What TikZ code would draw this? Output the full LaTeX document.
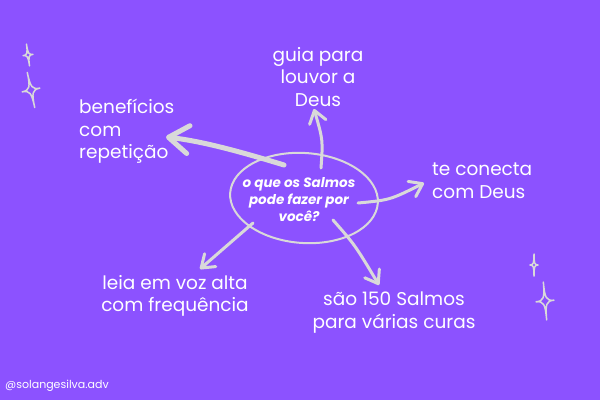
\documentclass[tikz,border=0pt]{standalone}
\usepackage{fontspec}
\setmainfont{Poppins}
\usepackage{tikz}
\usetikzlibrary{arrows.meta,positioning,calc}
\definecolor{Fundo}{HTML}{8C52FF}
\definecolor{Traco}{HTML}{D9D9D9}

% estrela de quatro pontas: x, y, meia largura, meia altura, giro
\newcommand{\faisca}[5]{%
  \draw[brilho,shift={(#1,#2)},rotate=#5] (0,-#4) .. controls (0,-0.15*#4) and (0.15*#3,0) .. (#3,0)
    .. controls (0.15*#3,0) and (0,0.15*#4) .. (0,#4)
    .. controls (0,0.15*#4) and (-0.15*#3,0) .. (-#3,0)
    .. controls (-0.15*#3,0) and (0,-0.15*#4) .. cycle;}

\begin{document}
\begin{tikzpicture}[x=1pt,y=-1pt,
    rotulo/.style={text=white,font=\fontsize{18.5}{22.5}\selectfont,align=center,inner sep=0pt},
    seta/.style={-{Straight Barb[length=12pt,width=17pt,line cap=round,line join=round]},line width=3pt,draw=Traco,line cap=round},
    brilho/.style={draw=Traco,line width=1.5pt,line join=round}
]
\fill[Fundo] (0,0) rectangle (600,400);
\useasboundingbox (0,0) rectangle (600,400);

% centro
\node[text=white,font=\fontsize{13.5}{17}\selectfont\bfseries\itshape,align=center,inner sep=0pt] (centro) at (299,200) {o que os Salmos\\pode fazer por\\você?};
\draw[draw=Traco,line width=2pt] (304,198) ellipse [x radius=74,y radius=45,rotate=-4];

% rotulos
\node[rotulo,align=left,anchor=north west] (beneficios) at (79,99) {benefícios\\com\\repetição};
\node[rotulo,anchor=north] (guia) at (318,47) {guia para\\louvor a\\Deus};
\node[rotulo,align=left,anchor=north west] (conecta) at (432,163) {te conecta\\com Deus};
\node[rotulo,anchor=north] (leia) at (175,275) {leia em voz alta\\com frequência};
\node[rotulo,anchor=north] (salmos) at (394,292) {são 150 Salmos\\para várias curas};
\node[text=white,font=\fontsize{11}{13}\selectfont,anchor=west,inner sep=0pt] (perfil) at (5,386) {@solangesilva.adv};

% pontas das setas
\coordinate (b0) at (284,165);
\coordinate (b1) at (166,137);
\coordinate (g0) at (321,168);
\coordinate (g1) at (314,109);
\coordinate (c0) at (358,203);
\coordinate (c1) at (424,183);
\coordinate (l0) at (253,223);
\coordinate (l1) at (200,269);
\coordinate (s0) at (333,220);
\coordinate (s1) at (379,285);

\draw[seta,line width=5pt,-{Straight Barb[length=20pt,width=28pt,line cap=round,line join=round]}] (b0) .. controls (235,150) and (200,141) .. (b1);
\draw[seta] (g0) .. controls (323,140) .. (g1);
\draw[seta] (c0) .. controls (390,200) .. (c1);
\draw[seta] (l0) -- (l1);
\draw[seta] (s0) .. controls (355,245) .. (s1);

% brilhos
\faisca{28}{55}{5}{11}{8}
\faisca{31}{90}{9}{18}{12}
\faisca{534}{265}{4}{11}{0}
\faisca{545}{301}{9}{19}{5}
\end{tikzpicture}
\end{document}
